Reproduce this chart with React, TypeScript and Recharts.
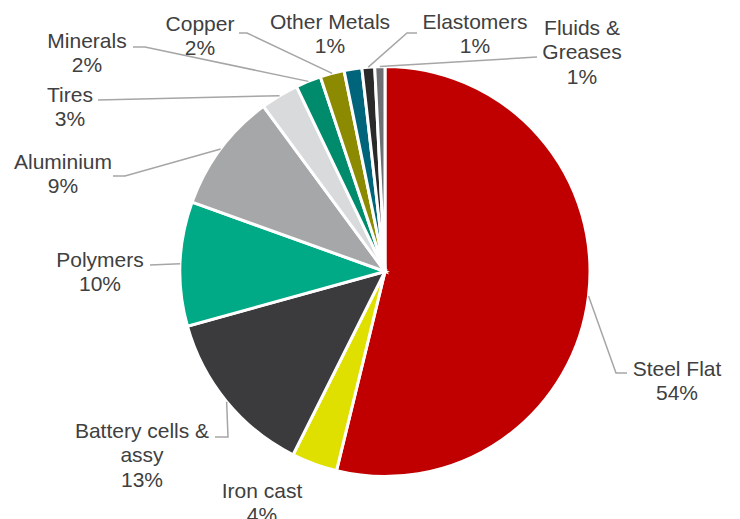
import React from "react";
import { PieChart, Pie, Cell } from "recharts";

const categories = [
  "Steel Flat",
  "Iron cast",
  "Battery cells & assy",
  "Polymers",
  "Aluminium",
  "Tires",
  "Minerals",
  "Copper",
  "Other Metals",
  "Elastomers",
  "Fluids & Greases",
];
const shares = [53.8, 3.6, 13.3, 9.8, 9.4, 3.0, 2.0, 1.9, 1.4, 1.0, 0.8];
const colors = [
  "#C00000",
  "#E0E000",
  "#3B3B3D",
  "#00AA86",
  "#A5A7A9",
  "#D9DADB",
  "#008C6C",
  "#8C8A00",
  "#00657A",
  "#2A2A2A",
  "#6D6F72",
];

// label layout: wrapped text lines, text centre, leader-line bend points
const labelLayout = [
  { lines: ["Steel Flat"], x: 677, y: 368, path: [[616, 373], [627, 373]] },
  { lines: ["Iron cast"], x: 262, y: 490, path: [] },
  { lines: ["Battery cells &", "assy"], x: 142, y: 430, path: [[228, 437], [215, 437]] },
  { lines: ["Polymers"], x: 100, y: 259, path: [[150, 265]] },
  { lines: ["Aluminium"], x: 63, y: 161, path: [[125, 176], [113, 176]] },
  { lines: ["Tires"], x: 70, y: 94, path: [[98, 100]] },
  { lines: ["Minerals"], x: 87, y: 40, path: [[145, 47], [133, 47]] },
  { lines: ["Copper"], x: 200, y: 23, path: [[247, 33], [239, 33]] },
  { lines: ["Other Metals"], x: 330, y: 21, path: [] },
  { lines: ["Elastomers"], x: 475, y: 21, path: [[407, 33], [417, 33]] },
  { lines: ["Fluids &", "Greases"], x: 582, y: 27, path: [[537, 57]] },
];

const data = categories.map((name, i) => ({ name, value: shares[i] }));

const RAD = Math.PI / 180;
const LINE_H = 24.5;

const renderLabel = (props: any) => {
  const { cx, cy, midAngle, outerRadius, index, value } = props;
  const lay = labelLayout[index];
  const sx = cx + Math.cos(-midAngle * RAD) * outerRadius;
  const sy = cy + Math.sin(-midAngle * RAD) * outerRadius;
  const pts = [[sx, sy], ...lay.path];
  const texts = [...lay.lines, `${Math.round(value)}%`];
  return (
    <g key={`lbl-${index}`}>
      {lay.path.length > 0 && (
        <polyline
          points={pts.map((p) => p.join(",")).join(" ")}
          fill="none"
          stroke="#A6A6A6"
          strokeWidth={1.5}
        />
      )}
      <text
        x={lay.x}
        y={lay.y}
        textAnchor="middle"
        fill="#404040"
        fontSize={21}
        fontFamily="'Liberation Sans', Arial, sans-serif"
      >
        {texts.map((t, k) => (
          <tspan key={k} x={lay.x} y={lay.y + k * LINE_H} dominantBaseline="central">
            {t}
          </tspan>
        ))}
      </text>
    </g>
  );
};

export default function App() {
  return (
    <div style={{ position: "absolute", left: 0, top: 0, background: "#fff" }}>
      <PieChart width={740} height={519} margin={{ top: 0, right: 0, bottom: 0, left: 0 }}>
        <Pie
          data={data}
          dataKey="value"
          nameKey="name"
          cx={385}
          cy={271.5}
          outerRadius={205}
          startAngle={90}
          endAngle={-270}
          stroke="#ffffff"
          strokeWidth={3}
          label={renderLabel}
          labelLine={false}
          isAnimationActive={false}
        >
          {data.map((d, i) => (
            <Cell key={d.name} fill={colors[i]} />
          ))}
        </Pie>
      </PieChart>
    </div>
  );
}
